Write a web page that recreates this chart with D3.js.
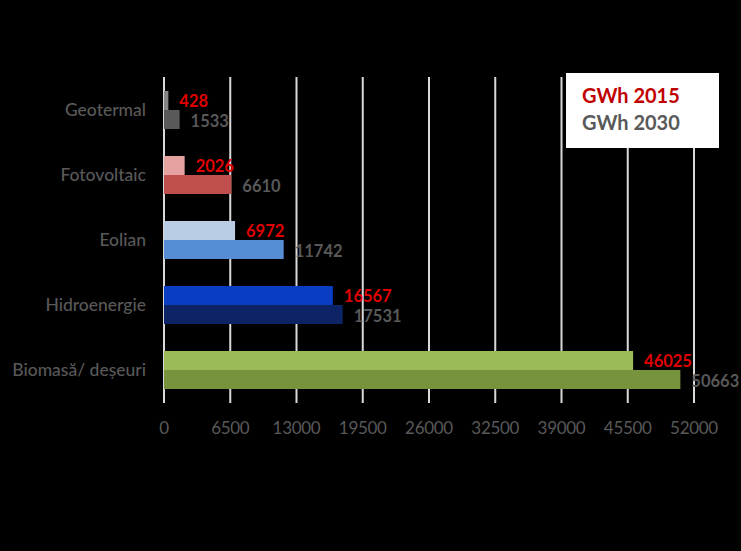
<!DOCTYPE html>
<html><head><meta charset="utf-8">
<script src="https://cdn.jsdelivr.net/npm/d3@7/dist/d3.min.js"></script>
<style>html,body{margin:0;padding:0;background:#000;}svg{display:block;}</style>
</head><body>
<script>
const categories = ["Geotermal","Fotovoltaic","Eolian","Hidroenergie","Biomasă/ deșeuri"];
const values2015 = [428, 2026, 6972, 16567, 46025];
const values2030 = [1533, 6610, 11742, 17531, 50663];
const ticks = [0, 6500, 13000, 19500, 26000, 32500, 39000, 45500, 52000];
const series = ["GWh 2015", "GWh 2030"];
const colors2015 = ["#858585","#e6a1a1","#b9cde5","#0a3ec2","#9bbb59"];
const colors2030 = ["#595959","#c0504d","#558ed5","#0c2466","#77933c"];

const W = 741, H = 551;
const svg = d3.select("body").append("svg").attr("width", W).attr("height", H)
  .style("background", "#000");
const font = "Lato, 'Open Sans', sans-serif";

const x = d3.scaleLinear().domain([0, 52000]).range([164, 694]);
const y = d3.scaleBand().domain(categories).range([77.5, 402.5]).paddingInner(27/65).paddingOuter(27/130);
const sub = d3.scaleBand().domain(series).range([0, y.bandwidth()]);

// gridlines
svg.append("g").selectAll("line").data(ticks).join("line")
  .attr("x1", d => x(d)).attr("x2", d => x(d))
  .attr("y1", 77).attr("y2", 403)
  .attr("stroke", "#d9d9d9").attr("stroke-width", 2);

// x tick labels
svg.append("g").selectAll("text").data(ticks).join("text")
  .attr("x", d => x(d)).attr("y", 434)
  .attr("text-anchor", "middle")
  .attr("fill", "#595959").attr("font-family", font).attr("font-size", 17)
  .style("letter-spacing", "-0.3px")
  .text(d => d);

// category labels
svg.append("g").selectAll("text").data(categories).join("text")
  .attr("x", 146).attr("y", d => y(d) + y.bandwidth() / 2 + 6)
  .attr("text-anchor", "end")
  .attr("fill", "#595959").attr("font-family", font).attr("font-size", 17.5)
  .attr("font-weight", 500)
  .text(d => d);

const rows = categories.map((c, i) => ({c, i, v15: values2015[i], v30: values2030[i]}));

// bars 2015
svg.append("g").selectAll("rect").data(rows).join("rect")
  .attr("x", x(0)).attr("y", d => y(d.c) + sub(series[0]))
  .attr("width", d => x(d.v15) - x(0)).attr("height", sub.bandwidth())
  .attr("fill", d => colors2015[d.i]);
// bars 2030
svg.append("g").selectAll("rect").data(rows).join("rect")
  .attr("x", x(0)).attr("y", d => y(d.c) + sub(series[1]))
  .attr("width", d => x(d.v30) - x(0)).attr("height", sub.bandwidth())
  .attr("fill", d => colors2030[d.i]);

// labels 2015
svg.append("g").selectAll("text").data(rows).join("text")
  .attr("x", d => x(d.v15) + 11).attr("y", d => y(d.c) + sub(series[0]) + sub.bandwidth() / 2 + 6)
  .attr("fill", "#e00000").attr("font-family", font).attr("font-size", 16.5).attr("font-weight", "bold")
  .text(d => d.v15);
// labels 2030
svg.append("g").selectAll("text").data(rows).join("text")
  .attr("x", d => x(d.v30) + 11).attr("y", d => y(d.c) + sub(series[1]) + sub.bandwidth() / 2 + 7)
  .attr("fill", "#595959").attr("font-family", font).attr("font-size", 16.5).attr("font-weight", "bold")
  .text(d => d.v30);

// legend
const lg = svg.append("g");
lg.append("rect").attr("x", 566).attr("y", 73).attr("width", 153).attr("height", 75).attr("fill", "#fff");
lg.append("text").attr("x", 582).attr("y", 103).attr("fill", "#c00000")
  .attr("font-family", font).attr("font-size", 20).attr("font-weight", "bold").text(series[0]);
lg.append("text").attr("x", 582).attr("y", 130).attr("fill", "#595959")
  .attr("font-family", font).attr("font-size", 20).attr("font-weight", "bold").text(series[1]);
</script>
</body></html>
